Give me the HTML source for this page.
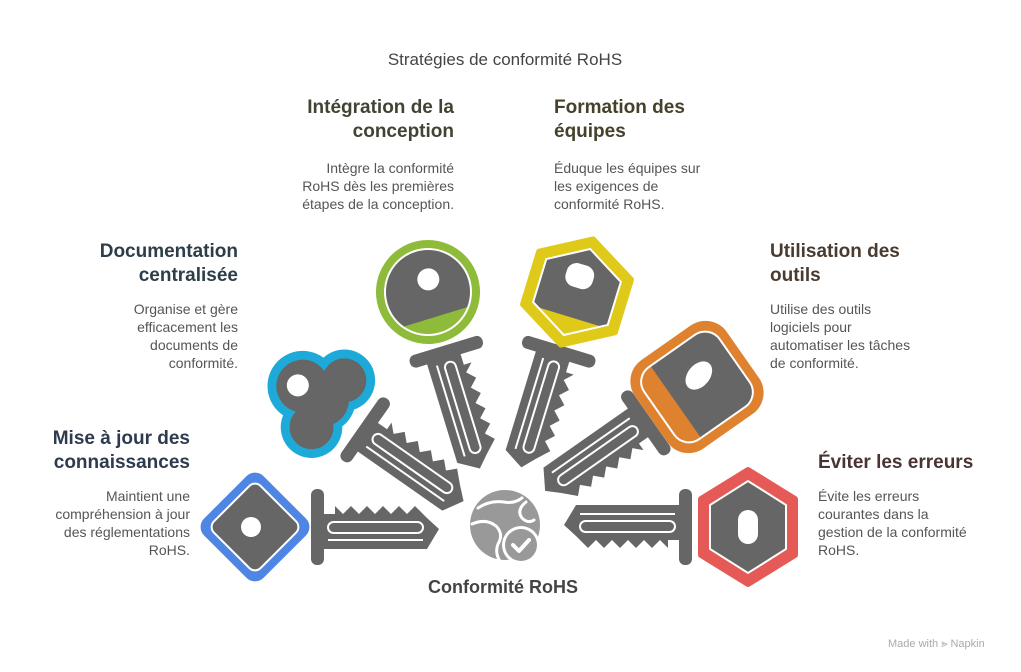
<!DOCTYPE html>
<html><head><meta charset="utf-8">
<style>
html,body{margin:0;padding:0;background:#fff;}
body{width:1021px;height:672px;position:relative;overflow:hidden;font-family:"Liberation Sans",Arial,sans-serif;}
.t{position:absolute;white-space:nowrap;}
.h{font-weight:bold;font-size:19px;line-height:24px;}
.b{font-size:14px;line-height:18px;color:#555;}
.r{text-align:right;}
</style></head><body>
<svg width="1021" height="672" style="position:absolute;left:0;top:0">
<defs>
<g id="blade">
  <rect x="56" y="-38" width="13" height="76" rx="6" fill="#666"/>
  <path d="M68,-13 L80,-13 L80,-21 L88,-13 L96,-21 L104,-13 L112,-21 L120,-13 L128,-21 L136,-13 L144,-21 L152,-13 L160,-21 L172,-9 L184,2 L172,22 L68,22 Z" fill="#666"/>
  <rect x="73" y="-5" width="95" height="11" rx="5.5" fill="none" stroke="#fff" stroke-width="2"/>
  <line x1="73" y1="13" x2="168" y2="13" stroke="#fff" stroke-width="2"/>
</g>
<clipPath id="cg"><circle cx="0" cy="0" r="43"/></clipPath>
<clipPath id="cy"><polygon points="45,0 22.5,39 -22.5,39 -45,0 -22.5,-39 22.5,-39"/></clipPath>
<clipPath id="co"><rect x="-46" y="-44" width="92" height="88" rx="18"/></clipPath>
</defs>

<!-- blue -->
<g transform="translate(255,527)">
  <use href="#blade"/>
  <rect x="-42" y="-42" width="84" height="84" rx="12" fill="#4f86e3" transform="rotate(45)"/>
  <rect x="-33" y="-33" width="66" height="66" rx="8" fill="#666" stroke="#fff" stroke-width="2" transform="rotate(45)"/>
  <circle cx="-4" cy="0" r="10" fill="#fff"/>
</g>
<!-- cyan -->
<g transform="translate(314,394) rotate(35)">
  <use href="#blade"/>
  <g transform="translate(6,0) scale(1.1)">
  <g fill="#1eaad8">
    <circle cx="-18" cy="0" r="32"/><circle cx="10" cy="-26" r="28"/><circle cx="10" cy="26" r="28"/><circle cx="4" cy="0" r="30"/>
  </g>
  <g fill="#666">
    <circle cx="-18" cy="0" r="24"/><circle cx="10" cy="-26" r="20"/><circle cx="10" cy="26" r="20"/><circle cx="4" cy="0" r="24"/>
  </g>
  <circle cx="-22" cy="2" r="10" fill="#fff"/>
  </g>
</g>
<!-- green -->
<g transform="translate(428,292) rotate(73)">
  <use href="#blade"/>
  <circle r="52" fill="#8fbb3a"/>
  <g clip-path="url(#cg)"><circle r="43" fill="#666"/><rect x="26" y="-50" width="30" height="100" fill="#8fbb3a"/></g>
  <circle r="43" fill="none" stroke="#fff" stroke-width="2"/>
  <circle cx="-12" cy="-4" r="11" fill="#fff"/>
</g>
<!-- yellow -->
<g transform="translate(577,292) rotate(107)">
  <use href="#blade"/>
  <polygon points="55,0 27.5,48 -27.5,48 -55,0 -27.5,-48 27.5,-48" fill="#dfca19" stroke="#dfca19" stroke-width="6" stroke-linejoin="round"/>
  <g clip-path="url(#cy)"><rect x="-60" y="-60" width="120" height="120" fill="#666"/><rect x="26" y="-50" width="30" height="100" fill="#dfca19"/></g>
  <polygon points="45,0 22.5,39 -22.5,39 -45,0 -22.5,-39 22.5,-39" fill="none" stroke="#fff" stroke-width="2"/>
  <rect x="-28" y="-12" width="24" height="28" rx="10" fill="#fff"/>
</g>
<!-- orange -->
<g transform="translate(697,387) rotate(145)">
  <use href="#blade"/>
  <rect x="-56" y="-54" width="112" height="108" rx="26" fill="#df8230"/>
  <g clip-path="url(#co)"><rect x="-60" y="-60" width="120" height="120" fill="#666"/><rect x="26" y="-50" width="30" height="100" fill="#df8230"/></g>
  <rect x="-46" y="-44" width="92" height="88" rx="18" fill="none" stroke="#fff" stroke-width="2"/>
  <ellipse cx="-10" cy="6" rx="16" ry="11" fill="#fff" transform="rotate(-15)"/>
</g>
<!-- red -->
<g transform="translate(748,527) rotate(180)">
  <use href="#blade"/>
  <polygon points="47,-28 47,28 0,57 -47,28 -47,-28 0,-57" fill="#e55a56" stroke="#e55a56" stroke-width="6" stroke-linejoin="round"/>
  <polygon points="38,-22 38,22 0,46 -38,22 -38,-22 0,-46" fill="#666" stroke="#fff" stroke-width="2"/>
  <rect x="-10" y="-17" width="20" height="34" rx="10" fill="#fff"/>
</g>

<!-- center globe -->
<circle cx="505" cy="525" r="35" fill="#999"/>
<path d="M478,508 q12,-8 26,-6 q10,2 18,-4 M472,524 q14,-6 24,2 q8,8 2,18 q-4,10 4,20 M526,502 q-10,8 -4,16 q6,6 12,2" fill="none" stroke="#fff" stroke-width="3" stroke-linecap="round"/>
<circle cx="521" cy="545" r="19" fill="#fff"/>
<circle cx="521" cy="545" r="16" fill="#999"/>
<path d="M513,545 l6,6 l10,-11" fill="none" stroke="#fff" stroke-width="4" stroke-linecap="round" stroke-linejoin="round"/>
</svg>

<div class="t" style="left:0;width:1010px;top:50px;text-align:center;font-size:17px;color:#444;">Stratégies de conformité RoHS</div>

<div class="t h r" style="right:567px;top:96px;color:#3f4433;">Intégration de la<br>conception</div>
<div class="t b r" style="right:567px;top:159px;">Intègre la conformité<br>RoHS dès les premières<br>étapes de la conception.</div>

<div class="t h" style="left:554px;top:96px;color:#45412a;">Formation des<br>équipes</div>
<div class="t b" style="left:554px;top:159px;">Éduque les équipes sur<br>les exigences de<br>conformité RoHS.</div>

<div class="t h r" style="right:783px;top:240px;color:#2d3e48;">Documentation<br>centralisée</div>
<div class="t b r" style="right:783px;top:300px;">Organise et gère<br>efficacement les<br>documents de<br>conformité.</div>

<div class="t h" style="left:770px;top:240px;color:#4a3b30;">Utilisation des<br>outils</div>
<div class="t b" style="left:770px;top:300px;">Utilise des outils<br>logiciels pour<br>automatiser les tâches<br>de conformité.</div>

<div class="t h r" style="right:831px;top:427px;color:#2e3b4e;">Mise à jour des<br>connaissances</div>
<div class="t b r" style="right:831px;top:487px;">Maintient une<br>compréhension à jour<br>des réglementations<br>RoHS.</div>

<div class="t h" style="left:818px;top:451px;color:#4a3333;">Éviter les erreurs</div>
<div class="t b" style="left:818px;top:487px;">Évite les erreurs<br>courantes dans la<br>gestion de la conformité<br>RoHS.</div>

<div class="t" style="left:0;width:1006px;top:577px;text-align:center;font-weight:bold;font-size:18px;color:#444;">Conformité RoHS</div>

<div class="t" style="left:888px;top:638px;font-size:11px;color:#aaa;">Made with ⪢ Napkin</div>
</body></html>
